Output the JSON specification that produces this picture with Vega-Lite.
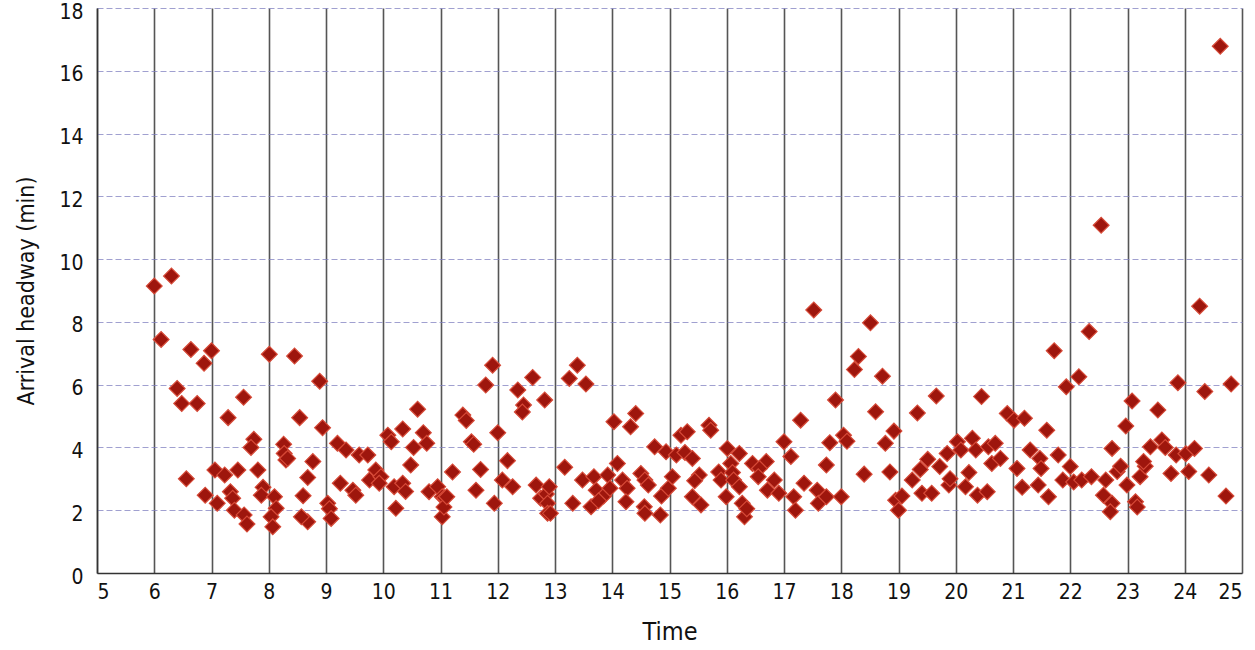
{
  "$schema": "https://vega.github.io/schema/vega-lite/v6.json",
  "width": 1145,
  "height": 565,
  "autosize": "none",
  "padding": {"left": 97, "top": 8, "right": 13, "bottom": 77},
  "background": "white",
  "config": {
    "view": {"stroke": null},
    "font": "Liberation Sans Narrow, DejaVu Sans Condensed, sans-serif"
  },
  "data": {
    "values": [
      {"t":6.0,"h":9.14},{"t":6.3,"h":9.46},{"t":6.12,"h":7.44},{"t":6.64,"h":7.12},{"t":7.0,"h":7.08},
      {"t":6.87,"h":6.68},{"t":8.01,"h":6.97},{"t":6.4,"h":5.88},{"t":6.48,"h":5.4},{"t":6.75,"h":5.4},
      {"t":7.56,"h":5.6},{"t":7.29,"h":4.95},{"t":7.74,"h":4.26},{"t":7.69,"h":4.0},{"t":8.26,"h":4.1},
      {"t":8.27,"h":3.81},{"t":8.3,"h":3.6},{"t":7.06,"h":3.28},{"t":7.23,"h":3.12},{"t":7.46,"h":3.28},
      {"t":7.81,"h":3.28},{"t":6.56,"h":3.0},{"t":7.9,"h":2.73},{"t":7.87,"h":2.48},{"t":6.89,"h":2.48},
      {"t":7.33,"h":2.59},{"t":7.37,"h":2.38},{"t":7.1,"h":2.22},{"t":7.4,"h":2.0},{"t":7.57,"h":1.85},
      {"t":7.62,"h":1.56},{"t":8.1,"h":2.43},{"t":8.13,"h":2.06},{"t":8.04,"h":1.79},{"t":8.07,"h":1.47},
      {"t":8.45,"h":6.91},{"t":8.89,"h":6.11},{"t":8.54,"h":4.95},{"t":8.94,"h":4.63},{"t":8.33,"h":3.65},
      {"t":8.77,"h":3.55},{"t":8.68,"h":3.04},{"t":8.6,"h":2.46},{"t":8.68,"h":1.63},{"t":8.57,"h":1.79},
      {"t":9.03,"h":2.22},{"t":9.06,"h":2.05},{"t":9.09,"h":1.74},{"t":9.2,"h":4.13},{"t":9.35,"h":3.92},
      {"t":9.58,"h":3.76},{"t":9.73,"h":3.76},{"t":9.25,"h":2.86},{"t":9.47,"h":2.64},{"t":9.52,"h":2.48},
      {"t":9.76,"h":2.96},{"t":9.87,"h":3.28},{"t":9.96,"h":3.07},{"t":9.93,"h":2.86},{"t":10.08,"h":4.39},
      {"t":10.14,"h":4.18},{"t":10.34,"h":4.59},{"t":10.6,"h":5.22},{"t":10.53,"h":4.0},{"t":10.7,"h":4.47},
      {"t":10.76,"h":4.13},{"t":10.48,"h":3.44},{"t":10.19,"h":2.75},{"t":10.34,"h":2.86},{"t":10.39,"h":2.6},
      {"t":10.22,"h":2.06},{"t":10.8,"h":2.59},{"t":10.95,"h":2.75},{"t":11.03,"h":2.43},{"t":11.07,"h":2.4},
      {"t":11.03,"h":1.79},{"t":11.06,"h":2.1},{"t":11.11,"h":2.43},{"t":11.21,"h":3.22},{"t":11.39,"h":5.03},
      {"t":11.45,"h":4.86},{"t":11.54,"h":4.18},{"t":11.58,"h":4.1},{"t":11.62,"h":2.64},{"t":11.7,"h":3.3},
      {"t":11.91,"h":6.62},{"t":11.79,"h":5.99},{"t":12.0,"h":4.47},{"t":12.17,"h":3.58},{"t":12.08,"h":2.96},
      {"t":12.26,"h":2.75},{"t":11.94,"h":2.22},{"t":12.35,"h":5.83},{"t":12.61,"h":6.23},{"t":12.45,"h":5.35},
      {"t":12.43,"h":5.13},{"t":12.82,"h":5.51},{"t":12.67,"h":2.8},{"t":12.75,"h":2.38},{"t":12.85,"h":2.52},
      {"t":12.87,"h":2.22},{"t":12.87,"h":1.9},{"t":12.92,"h":1.9},{"t":12.9,"h":2.75},{"t":13.31,"h":2.22},
      {"t":13.17,"h":3.37},{"t":13.39,"h":6.62},{"t":13.25,"h":6.2},{"t":13.54,"h":6.02},{"t":13.48,"h":2.96},
      {"t":13.68,"h":3.07},{"t":13.92,"h":3.12},{"t":13.63,"h":2.11},{"t":13.72,"h":2.64},{"t":13.85,"h":2.45},
      {"t":13.76,"h":2.3},{"t":13.96,"h":2.7},{"t":14.09,"h":3.49},{"t":14.18,"h":2.96},{"t":14.26,"h":2.7},
      {"t":14.24,"h":2.27},{"t":14.03,"h":4.82},{"t":14.32,"h":4.66},{"t":14.41,"h":5.08},{"t":14.5,"h":3.17},
      {"t":14.57,"h":2.96},{"t":14.63,"h":2.8},{"t":14.56,"h":2.11},{"t":14.57,"h":1.9},{"t":14.84,"h":1.85},
      {"t":14.86,"h":2.45},{"t":14.98,"h":2.7},{"t":14.74,"h":4.02},{"t":14.94,"h":3.86},{"t":15.2,"h":4.39},
      {"t":15.31,"h":4.5},{"t":15.12,"h":3.76},{"t":15.27,"h":3.84},{"t":15.4,"h":3.65},{"t":15.05,"h":3.07},
      {"t":15.69,"h":4.71},{"t":15.72,"h":4.55},{"t":15.52,"h":3.12},{"t":15.44,"h":2.94},{"t":15.4,"h":2.43},
      {"t":15.55,"h":2.17},{"t":16.01,"h":3.97},{"t":16.22,"h":3.81},{"t":16.07,"h":3.49},{"t":15.86,"h":3.22},
      {"t":15.9,"h":2.96},{"t":16.1,"h":3.2},{"t":16.12,"h":2.96},{"t":15.99,"h":2.43},{"t":16.22,"h":2.75},
      {"t":16.27,"h":2.22},{"t":16.31,"h":1.79},{"t":16.35,"h":2.05},{"t":16.45,"h":3.49},{"t":16.69,"h":3.55},
      {"t":16.57,"h":3.33},{"t":16.55,"h":3.07},{"t":16.83,"h":2.96},{"t":16.71,"h":2.64},{"t":16.91,"h":2.54},
      {"t":17.0,"h":4.18},{"t":17.12,"h":3.71},{"t":17.29,"h":4.87},{"t":17.17,"h":2.43},{"t":17.2,"h":2.0},
      {"t":17.35,"h":2.86},{"t":17.52,"h":8.38},{"t":17.58,"h":2.64},{"t":17.6,"h":2.22},{"t":17.74,"h":2.43},
      {"t":18.0,"h":2.43},{"t":17.74,"h":3.44},{"t":17.8,"h":4.15},{"t":17.9,"h":5.51},{"t":18.04,"h":4.39},
      {"t":18.1,"h":4.2},{"t":18.23,"h":6.48},{"t":18.3,"h":6.9},{"t":18.51,"h":7.97},{"t":18.72,"h":6.27},
      {"t":18.6,"h":5.14},{"t":18.77,"h":4.13},{"t":18.92,"h":4.52},{"t":18.4,"h":3.15},{"t":18.85,"h":3.22},
      {"t":18.95,"h":2.32},{"t":19.0,"h":2.0},{"t":19.06,"h":2.45},{"t":19.24,"h":2.96},{"t":19.38,"h":3.3},
      {"t":19.51,"h":3.62},{"t":19.41,"h":2.54},{"t":19.58,"h":2.54},{"t":19.33,"h":5.1},{"t":19.66,"h":5.64},
      {"t":19.72,"h":3.39},{"t":19.85,"h":3.81},{"t":19.88,"h":2.8},{"t":19.9,"h":3.0},{"t":20.03,"h":4.18},
      {"t":20.09,"h":3.92},{"t":20.23,"h":3.2},{"t":20.17,"h":2.75},{"t":20.29,"h":4.29},{"t":20.35,"h":3.92},
      {"t":20.38,"h":2.48},{"t":20.55,"h":2.59},{"t":20.45,"h":5.62},{"t":20.57,"h":4.02},{"t":20.69,"h":4.13},
      {"t":20.63,"h":3.49},{"t":20.78,"h":3.65},{"t":20.9,"h":5.08},{"t":21.02,"h":4.87},{"t":21.2,"h":4.93},
      {"t":21.07,"h":3.33},{"t":21.16,"h":2.73},{"t":21.3,"h":3.92},{"t":21.47,"h":3.65},{"t":21.49,"h":3.33},
      {"t":21.44,"h":2.8},{"t":21.59,"h":4.55},{"t":22.54,"h":11.08},{"t":24.26,"h":8.5},{"t":22.33,"h":7.69},
      {"t":21.72,"h":7.08},{"t":22.15,"h":6.25},{"t":21.93,"h":5.93},{"t":23.88,"h":6.06},{"t":24.35,"h":5.78},
      {"t":24.81,"h":6.02},{"t":23.08,"h":5.48},{"t":23.53,"h":5.19},{"t":22.97,"h":4.68},{"t":21.79,"h":3.76},
      {"t":22.73,"h":3.97},{"t":23.4,"h":4.02},{"t":23.6,"h":4.24},{"t":23.66,"h":4.0},{"t":23.85,"h":3.76},
      {"t":24.02,"h":3.8},{"t":24.17,"h":3.97},{"t":22.0,"h":3.39},{"t":21.87,"h":2.96},{"t":22.06,"h":2.9},
      {"t":22.2,"h":2.96},{"t":22.37,"h":3.07},{"t":22.62,"h":2.96},{"t":22.82,"h":3.23},{"t":22.88,"h":3.4},
      {"t":22.99,"h":2.8},{"t":23.22,"h":3.07},{"t":23.31,"h":3.4},{"t":23.28,"h":3.55},{"t":23.76,"h":3.17},
      {"t":24.07,"h":3.23},{"t":24.42,"h":3.12},{"t":21.62,"h":2.43},{"t":22.58,"h":2.48},{"t":22.73,"h":2.22},
      {"t":22.7,"h":1.95},{"t":23.14,"h":2.27},{"t":23.17,"h":2.1},{"t":24.72,"h":2.45},{"t":24.62,"h":16.78}
    ]
  },
  "mark": {"type": "point", "shape": "diamond", "filled": true, "size": 250, "color": "#9e160d", "stroke": "#d64a38", "strokeWidth": 1.2, "opacity": 1},
  "encoding": {
    "x": {
      "field": "t", "type": "quantitative",
      "scale": {"domain": [5, 25], "nice": false, "zero": false},
      "axis": {
        "title": "Time", "values": [5,6,7,8,9,10,11,12,13,14,15,16,17,18,19,20,21,22,23,24,25],
        "grid": true, "gridColor": "#555555", "gridWidth": 1.6, "gridOpacity": 1,
        "domain": true, "domainColor": "#333333", "domainWidth": 1.5,
        "ticks": false, "labelPadding": 8, "labelFontSize": 21, "labelColor": "#111111",
        "titleFontSize": 25, "titleColor": "#111111", "titleFontWeight": "normal", "titlePadding": 17
      }
    },
    "y": {
      "field": "h", "type": "quantitative",
      "scale": {"domain": [0, 18], "nice": false},
      "axis": {
        "title": "Arrival headway (min)", "values": [0,2,4,6,8,10,12,14,16,18],
        "grid": true, "gridColor": "#8080c0", "gridWidth": 1, "gridDash": [6, 3], "gridOpacity": 0.75,
        "domain": true, "domainColor": "#333333", "domainWidth": 1.5,
        "ticks": false, "labelPadding": 14, "labelFontSize": 21, "labelColor": "#111111", "labelOffset": 4,
        "titleFontSize": 23, "titleColor": "#111111", "titleFontWeight": "normal", "titlePadding": 20
      }
    }
  }
}
